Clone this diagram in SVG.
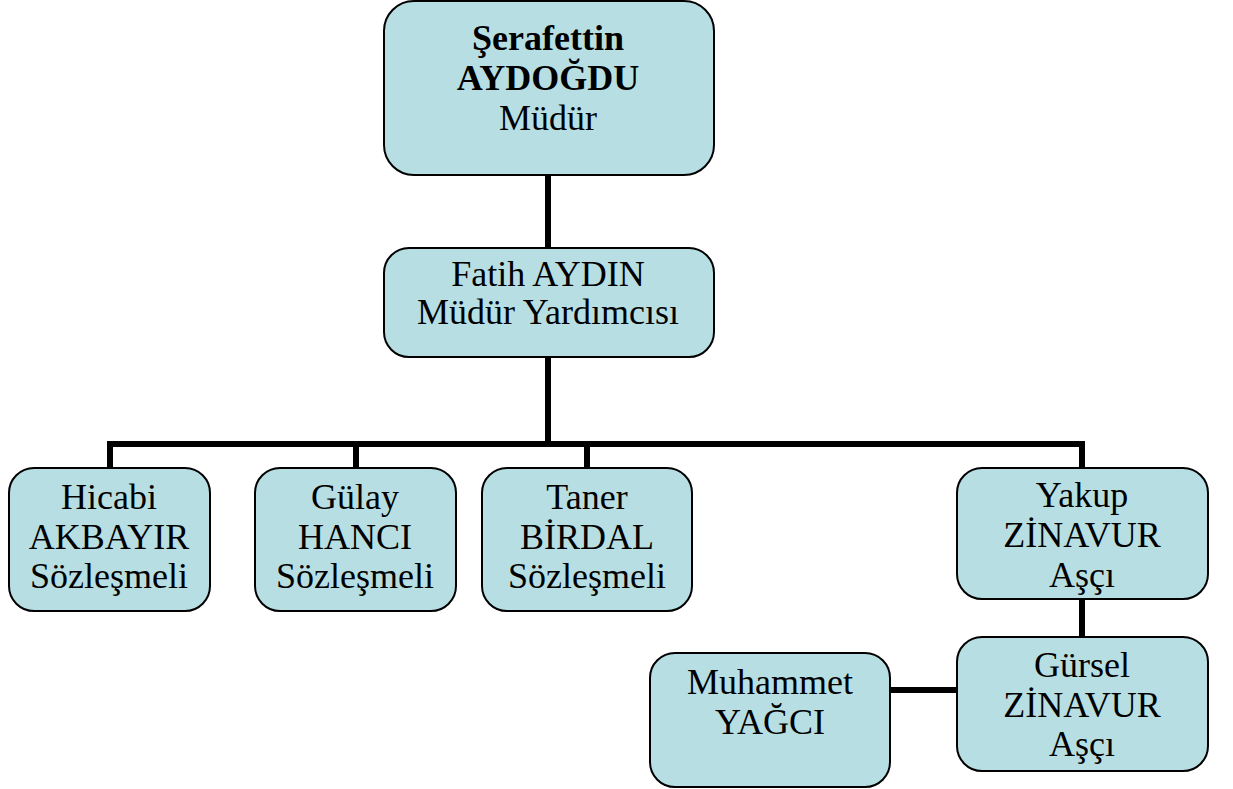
<svg xmlns="http://www.w3.org/2000/svg" width="1233" height="789" viewBox="0 0 1233 789">
<style>
.box{fill:#b7dfe3;stroke:#000;stroke-width:2}
.t{font-family:"Liberation Serif","Times New Roman",serif;font-size:36px;fill:#000;text-anchor:middle}
.b{font-weight:bold}
.c{stroke:#000;stroke-width:6;fill:none}
</style>
<rect width="1233" height="789" fill="#fff"/>
<g id="connectors">
<line class="c" x1="548" y1="175" x2="548" y2="248"/>
<line class="c" x1="548" y1="357" x2="548" y2="444"/>
<polyline class="c" points="110,468 110,444 1082,444 1082,468"/>
<line class="c" x1="356" y1="444" x2="356" y2="468"/>
<line class="c" x1="587" y1="444" x2="587" y2="468"/>
<line class="c" x1="1082" y1="599" x2="1082" y2="637"/>
<line class="c" x1="890" y1="690" x2="957" y2="690"/>
</g>
<g id="n-serafettin">
<rect class="box" x="384" y="1" width="330" height="174" rx="30"/>
<text class="t b" x="548" y="50">Şerafettin</text>
<text class="t b" x="548" y="90">AYDOĞDU</text>
<text class="t" x="548" y="130">Müdür</text>
</g>
<g id="n-fatih">
<rect class="box" x="384" y="248" width="330" height="109" rx="25"/>
<text class="t" x="548" y="286">Fatih AYDIN</text>
<text class="t" x="548" y="324">Müdür Yardımcısı</text>
</g>
<g id="n-hicabi">
<rect class="box" x="9" y="468" width="201" height="143" rx="25"/>
<text class="t" x="109" y="509">Hicabi</text>
<text class="t" x="109" y="549">AKBAYIR</text>
<text class="t" x="109" y="588">Sözleşmeli</text>
</g>
<g id="n-gulay">
<rect class="box" x="255" y="468" width="201" height="143" rx="25"/>
<text class="t" x="355" y="509">Gülay</text>
<text class="t" x="355" y="549">HANCI</text>
<text class="t" x="355" y="588">Sözleşmeli</text>
</g>
<g id="n-taner">
<rect class="box" x="482" y="468" width="210" height="143" rx="25"/>
<text class="t" x="587" y="509">Taner</text>
<text class="t" x="587" y="549">BİRDAL</text>
<text class="t" x="587" y="588">Sözleşmeli</text>
</g>
<g id="n-yakup">
<rect class="box" x="957" y="468" width="251" height="131" rx="25"/>
<text class="t" x="1082" y="507">Yakup</text>
<text class="t" x="1082" y="547">ZİNAVUR</text>
<text class="t" x="1082" y="587">Aşçı</text>
</g>
<g id="n-gursel">
<rect class="box" x="957" y="637" width="251" height="134" rx="25"/>
<text class="t" x="1082" y="677">Gürsel</text>
<text class="t" x="1082" y="717">ZİNAVUR</text>
<text class="t" x="1082" y="756">Aşçı</text>
</g>
<g id="n-muhammet">
<rect class="box" x="650" y="653" width="240" height="134" rx="25"/>
<text class="t" x="770" y="694">Muhammet</text>
<text class="t" x="770" y="734">YAĞCI</text>
</g>
</svg>
